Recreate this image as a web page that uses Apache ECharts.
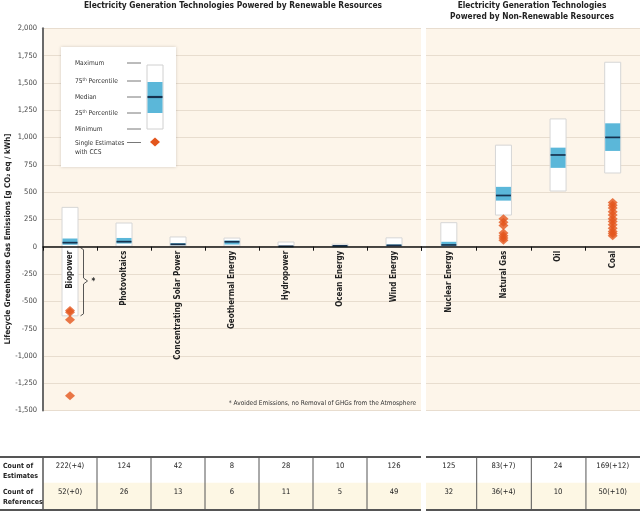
<!DOCTYPE html>
<html><head><meta charset="utf-8">
<script src="https://cdn.jsdelivr.net/npm/echarts@6/dist/echarts.min.js"></script>
<style>html,body{margin:0;padding:0;background:#fff}#c{width:640px;height:512px}</style>
</head><body><div id="c"></div>
<script>
// ---------- data ----------
const categoriesLeft = ['Biopower','Photovoltaics','Concentrating Solar Power','Geothermal Energy','Hydropower','Ocean Energy','Wind Energy'];
const categoriesRight = ['Nuclear Energy','Natural Gas','Oil','Coal'];
const minLeft = [-633, 5, 7, 6, 0, 2, 2];
const q1Left  = [18, 29, 14, 20, 3, 6, 8];
const medLeft = [37, 46, 22, 45, 4, 8, 12];
const q3Left  = [75, 80, 32, 57, 7, 9, 20];
const maxLeft = [360, 217, 89, 79, 43, 23, 81];
const minRight = [1, 290, 510, 675];
const q1Right  = [8, 422, 722, 877];
const medRight = [16, 469, 840, 1001];
const q3Right  = [45, 548, 907, 1130];
const maxRight = [220, 930, 1170, 1689];
const bioCCS  = [-585, -600, -670, -1365];
const gasCCS  = [255, 225, 195, 125, 100, 80, 60];
const coalCCS = [405, 380, 355, 320, 290, 255, 230, 200, 170, 140, 120, 100];
const yTicks = [-1500, 2000, 250]; // min, max, interval
const estimatesLeft  = ['222(+4)','124','42','8','28','10','126'];
const estimatesRight = ['125','83(+7)','24','169(+12)'];
const referencesLeft  = ['52(+0)','26','13','6','11','5','49'];
const referencesRight = ['32','36(+4)','10','50(+10)'];
const bioBracket = [0, 0, -633, -314]; // category, top, bottom, notch

// ---------- style ----------
const FONT = "'Liberation Sans Narrow','DejaVu Sans Condensed','Liberation Sans',sans-serif";
const BLUE = '#5bb7d9', NAVY = '#17324f', ORANGE = '#e3561d', BG = '#fdf5ea', GRIDC = '#e8ddcf';

const GRID_TOP = 28.3, GRID_BOTTOM = 101.5, H = 512;
const gridH = H - GRID_TOP - GRID_BOTTOM;
// move the category axis up to the value 0 of the value scale
const zeroOffset = -gridH * (0 - yTicks[0]) / (yTicks[1] - yTicks[0]);

const chart = echarts.init(document.getElementById('c'), null, {renderer:'canvas'});

function boxItem(params, api){
  const x = api.value(0);
  const pMin = api.coord([x, api.value(1)]);
  const pQ1 = api.coord([x, api.value(2)]);
  const pMed = api.coord([x, api.value(3)]);
  const pQ3 = api.coord([x, api.value(4)]);
  const pMax = api.coord([x, api.value(5)]);
  const hw = 8;
  const cx = pMed[0];
  return {type:'group', children:[
    {type:'rect', shape:{x:cx-hw, y:pMax[1], width:hw*2, height:pMin[1]-pMax[1]},
      style:{fill:'#fff', stroke:'#d6d6d6', lineWidth:1}},
    {type:'rect', shape:{x:cx-hw+0.5, y:pQ3[1], width:hw*2-1, height:Math.max(pQ1[1]-pQ3[1],1.5)},
      style:{fill:BLUE}},
    {type:'line', shape:{x1:cx-hw+0.5, y1:pMed[1], x2:cx+hw-0.5, y2:pMed[1]},
      style:{stroke:NAVY, lineWidth:1.7}}
  ]};
}
function bracketItem(params, api){
  const x = api.value(0);
  const pT = api.coord([x, api.value(1)]);
  const pB = api.coord([x, api.value(2)]);
  const pN = api.coord([x, api.value(3)]);
  const bx = pT[0] + 13.5;
  return {type:'group', children:[
    {type:'polyline', shape:{points:[[bx-3,pT[1]+1],[bx,pT[1]+3],[bx,pN[1]-3],[bx+4,pN[1]],[bx,pN[1]+3],[bx,pB[1]-2],[bx-3,pB[1]]]},
      style:{stroke:'#444', lineWidth:0.9, fill:null}},
    {type:'text', style:{text:'*', x:bx+10, y:pN[1]+1, fill:'#222', font:'bold 8px '+FONT, align:'center', verticalAlign:'middle'}}
  ]};
}

const boxLeft = categoriesLeft.map((c,i)=>[i, minLeft[i], q1Left[i], medLeft[i], q3Left[i], maxLeft[i]]);
const boxRight = categoriesRight.map((c,i)=>[i, minRight[i], q1Right[i], medRight[i], q3Right[i], maxRight[i]]);
const ccsLeft = bioCCS.map(v=>[0, v]);
const ccsRight = gasCCS.map(v=>[1, v]).concat(coalCCS.map(v=>[3, v]));

const xAxisCommon = {
  type:'category', z:10, position:'bottom', offset:zeroOffset,
  axisLine:{onZero:false, lineStyle:{color:'#111', width:1.5}},
  axisTick:{show:true, length:4, lineStyle:{color:'#111', width:1}},
  axisLabel:{rotate:90, interval:0, fontSize:8, fontWeight:'bold', color:'#222', margin:4, fontFamily:FONT},
  splitLine:{show:false}
};
const yAxisCommon = {
  type:'value', min:yTicks[0], max:yTicks[1], interval:yTicks[2],
  splitLine:{show:true, lineStyle:{color:GRIDC, width:1}},
  axisTick:{show:false}
};

chart.setOption({
  animation:false,
  backgroundColor:'#fff',
  grid:[
    {left:43, width:378, top:GRID_TOP, bottom:GRID_BOTTOM, show:true, backgroundColor:BG, borderWidth:0, containLabel:false, outerBoundsMode:'none'},
    {left:421.5, width:218.5, top:GRID_TOP, bottom:GRID_BOTTOM, show:true, backgroundColor:BG, borderWidth:0, containLabel:false, outerBoundsMode:'none'}
  ],
  xAxis:[
    Object.assign({}, xAxisCommon, {gridIndex:0, data:categoriesLeft}),
    Object.assign({}, xAxisCommon, {gridIndex:1, data:categoriesRight})
  ],
  yAxis:[
    Object.assign({}, yAxisCommon, {gridIndex:0,
      axisLine:{show:true, onZero:false, lineStyle:{color:'#6a6a6a', width:2}},
      axisLabel:{fontSize:7.5, color:'#444', margin:6, fontFamily:FONT,
        formatter:v=>v.toLocaleString('en-US')}}),
    Object.assign({}, yAxisCommon, {gridIndex:1, axisLine:{show:false}, axisLabel:{show:false}})
  ],
  series:[
    {type:'custom', xAxisIndex:0, yAxisIndex:0, renderItem:boxItem, data:boxLeft, z:2,
      encode:{x:0, y:[1,5]}},
    {type:'custom', xAxisIndex:1, yAxisIndex:1, renderItem:boxItem, data:boxRight, z:2,
      encode:{x:0, y:[1,5]}},
    {type:'custom', xAxisIndex:0, yAxisIndex:0, renderItem:bracketItem, data:[bioBracket], z:3,
      encode:{x:0, y:[1,2]}},
    {type:'scatter', xAxisIndex:0, yAxisIndex:0, data:ccsLeft, symbol:'diamond', symbolSize:[10,9],
      itemStyle:{color:ORANGE}, z:4},
    {type:'scatter', xAxisIndex:1, yAxisIndex:1, data:ccsRight, symbol:'diamond', symbolSize:[10,9],
      itemStyle:{color:ORANGE}, z:4}
  ]
});

// ---------- graphics: titles, legend, table ----------
const g = [];
g.push({type:'rect', shape:{x:421, y:20, width:5, height:400}, style:{fill:'#fff'}, z:5});
g.push({type:'text', style:{text:'Electricity Generation Technologies Powered by Renewable Resources',
  x:233, y:6, align:'center', verticalAlign:'middle', font:'bold 8.4px '+FONT, fill:'#222'}});
g.push({type:'text', style:{text:'Electricity Generation Technologies\nPowered by Non-Renewable Resources',
  x:532, y:11.5, align:'center', verticalAlign:'middle', font:'bold 8.3px '+FONT, fill:'#222', lineHeight:11}});
g.push({type:'text', rotation:Math.PI/2, x:8, y:239, style:{text:'Lifecycle Greenhouse Gas Emissions [g CO₂ eq / kWh]',
  align:'center', verticalAlign:'middle', font:'bold 7.8px '+FONT, fill:'#222'}});
g.push({type:'text', style:{text:'* Avoided Emissions, no Removal of GHGs from the Atmosphere',
  x:416, y:403, align:'right', verticalAlign:'middle', font:'6.5px '+FONT, fill:'#333'}, z:6});

// legend
const lg = {type:'group', z:20, children:[
  {type:'rect', shape:{x:61, y:47, width:115, height:120}, style:{fill:'#fff', shadowBlur:3, shadowColor:'rgba(0,0,0,0.18)'}},
  {type:'rect', shape:{x:147, y:65, width:16, height:64}, style:{fill:'#fff', stroke:'#d0d0d0', lineWidth:1}},
  {type:'rect', shape:{x:147.5, y:82, width:15, height:31}, style:{fill:BLUE}},
  {type:'line', shape:{x1:147.5, y1:97, x2:162.5, y2:97}, style:{stroke:NAVY, lineWidth:2.2}},
  {type:'polygon', shape:{points:[[155,137.5],[160,142],[155,146.5],[150,142]]}, style:{fill:ORANGE}}
]};
const legendRows = [['Maximum',63],['75{s|th} Percentile',81],['Median',97],['25{s|th} Percentile',113],['Minimum',129],['Single Estimates\nwith CCS',147.5]];
legendRows.forEach(([t,y],i)=>{
  lg.children.push({type:'text', style:{text:t, x:75, y:y, verticalAlign:'middle', font:'6.6px '+FONT, fill:'#333', lineHeight:9,
    rich:{s:{fontSize:4.5, fontFamily:FONT, padding:[0,0,3,0], fill:'#333'}}}});
  const ly = i===5 ? 142.5 : y;
  lg.children.push({type:'line', shape:{x1:127, y1:ly, x2:141, y2:ly}, style:{stroke:'#555', lineWidth:0.8}});
});
g.push(lg);

// table
const T0 = 457, T1 = 482.7, T2 = 510;
function tableFor(axisIdx, cats, est, ref, xStart, xEnd, withLabel){
  const cw = (xEnd - xStart) / cats.length;
  const centers = cats.map((c,i)=>chart.convertToPixel({xAxisIndex:axisIdx}, c));
  g.push({type:'rect', shape:{x:xStart, y:T1, width:xEnd-xStart, height:T2-T1}, style:{fill:'#fdf7e4'}});
  g.push({type:'line', shape:{x1:withLabel?0:xStart, y1:T0, x2:xEnd, y2:T0}, style:{stroke:'#555', lineWidth:2}});
  g.push({type:'line', shape:{x1:withLabel?0:xStart, y1:T2, x2:xEnd, y2:T2}, style:{stroke:'#555', lineWidth:2}});
  centers.forEach((cx,i)=>{
    if(i>0 || withLabel){
      const bx = i===0 ? xStart : cx - cw/2;
      g.push({type:'line', shape:{x1:bx, y1:T0, x2:bx, y2:T2}, style:{stroke:'#555', lineWidth: (i===0?1.5:1)}});
    }
    g.push({type:'text', style:{text:est[i], x:cx, y:466, align:'center', verticalAlign:'middle', font:'7.6px '+FONT, fill:'#222'}});
    g.push({type:'text', style:{text:ref[i], x:cx, y:492, align:'center', verticalAlign:'middle', font:'7.6px '+FONT, fill:'#222'}});
  });
}
tableFor(0, categoriesLeft, estimatesLeft, referencesLeft, 43, 421, true);
tableFor(1, categoriesRight, estimatesRight, referencesRight, 426, 640, false);
g.push({type:'text', style:{text:'Count of\nEstimates', x:3, y:471, verticalAlign:'middle', font:'bold 7px '+FONT, fill:'#222', lineHeight:10.5}});
g.push({type:'text', style:{text:'Count of\nReferences', x:3, y:497, verticalAlign:'middle', font:'bold 7px '+FONT, fill:'#222', lineHeight:10.5}});

chart.setOption({graphic:g});
</script></body></html>
